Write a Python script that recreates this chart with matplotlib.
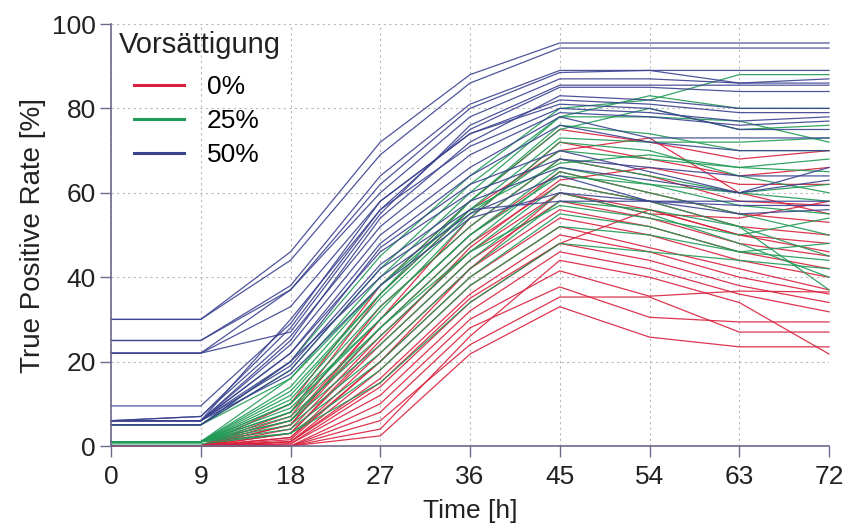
import matplotlib
matplotlib.use("Agg")
import matplotlib.pyplot as plt

plt.rcParams['font.family'] = ['Liberation Sans', 'DejaVu Sans']

time_h = [0, 9, 18, 27, 36, 45, 54, 63, 72]
x_ticks = [0, 9, 18, 27, 36, 45, 54, 63, 72]
y_ticks = [0, 20, 40, 60, 80, 100]
group_labels = ["0%", "25%", "50%"]
group_colors = ["#d8203c", "#1f9a55", "#3b4290"]
legend_title = "Vorsättigung"

red_0 = [
    [0, 0, 10, 38, 58, 75, 72, 68, 70],
    [0, 0, 8, 36, 56, 70, 73, 60, 55],
    [0, 0, 7, 33, 52, 68, 64, 58, 57],
    [0, 0, 6, 30, 50, 65, 60, 55, 53],
    [0, 0, 5, 28, 48, 62, 58, 52, 50],
    [0, 0, 4, 26, 46, 60, 56, 50, 48],
    [0, 0, 3, 24, 44, 58, 54, 48, 45],
    [0, 0, 2, 22, 42, 56, 52, 46, 42],
    [0, 0, 1.5, 20, 40, 54, 50, 44, 40],
    [0, 0, 1, 18, 38, 52, 47, 42, 37],
    [0, 0, 1, 16, 36, 50, 46, 40, 36],
    [0, 0, 0.5, 14, 34, 48, 44, 38, 34],
    [0, 0, 0.5, 12, 32, 46, 42, 36, 31.8],
    [0, 0, 0, 10, 30, 41.5, 35.5, 36.7, 36.5],
    [0, 0, 0, 8, 28, 37.7, 30.5, 29.4, 29.4],
    [0, 0, 0, 6, 24, 35.3, 35.3, 27, 27],
    [0, 0, 0, 2.4, 21.8, 33, 25.8, 23.5, 23.5],
    [0, 0, 0, 4, 26, 44, 40, 34, 21.8],
    [0, 0, 2, 20, 42, 60, 55, 54, 58],
    [0, 0, 3, 25, 47, 63, 66, 62, 62],
    [0, 0, 5, 30, 54, 72, 68, 64, 66],
    [0, 0, 1, 15, 35, 48, 56, 50, 46],
]

green_25 = [
    [5, 5, 20, 45, 64, 80, 82, 88, 88],
    [5, 5, 18, 42, 62, 78, 83, 80, 80],
    [1, 1, 16, 40, 60, 78, 78, 77, 72],
    [1, 1, 14, 38, 58, 76, 74, 70, 70],
    [1, 1, 12, 36, 56, 73, 72, 72, 73],
    [1, 1, 11, 35, 55, 70, 68, 66, 65],
    [1, 1, 10, 33, 52, 68, 64, 60, 62],
    [1, 1, 9, 30, 50, 66, 62, 57, 55],
    [1, 1, 8, 28, 48, 65, 60, 55, 50],
    [1, 1, 7, 26, 46, 62, 58, 52, 45],
    [1, 1, 6, 24, 44, 60, 55, 48, 40],
    [1, 1, 5, 22, 42, 58, 56, 52, 37],
    [1, 1, 4, 20, 40, 55, 52, 46, 44],
    [1, 1, 3, 18, 38, 52, 50, 46, 48],
    [0.5, 0.5, 3, 15, 34, 48, 46, 44, 42],
    [1, 1, 6, 28, 46, 57, 54, 50, 54],
    [1, 1, 8, 32, 54, 72, 70, 64, 60],
    [5, 5, 16, 38, 56, 67, 69, 66, 68],
    [1, 1, 10, 30, 50, 64, 62, 60, 58],
    [1, 1, 13, 36, 58, 75, 80, 75, 76],
]

blue_50 = [
    [30, 30, 46, 72, 88, 95.5, 95.5, 95.5, 95.5],
    [30, 30, 44, 69, 86, 94.3, 94.3, 94.3, 94.3],
    [25, 25, 38, 64, 81, 89, 89, 89, 89],
    [22, 22, 37, 62, 80, 88.5, 89, 86, 87],
    [25, 25, 37, 60, 78, 87, 87, 86, 86],
    [22, 22, 27, 55, 76, 85.5, 85.5, 85.5, 85.5],
    [9.5, 9.5, 29, 58, 74, 81, 80, 75, 75],
    [6, 6, 30, 56, 71, 80, 79, 77, 78],
    [6, 7, 26, 52, 69, 79, 78, 76, 77],
    [6, 6, 24, 50, 66, 78, 73, 73, 73],
    [6, 6, 22, 48, 64, 76, 72, 70, 70],
    [6, 6, 20, 47, 62, 70, 65, 60, 66],
    [6, 6, 22, 46, 60, 68, 66, 64, 64],
    [6, 6, 19, 43, 58, 66, 63, 60, 63],
    [5, 5, 20, 40, 55, 64, 58, 57, 57],
    [5, 5, 18, 42, 56, 58, 58, 58, 58],
    [6, 6, 17, 38, 54, 60, 58, 55, 56],
    [6, 6, 25, 54, 72, 83, 82, 80, 80],
    [6, 7, 28, 56, 75, 85, 85, 84, 84],
    [22, 22, 33, 58, 74, 82, 81, 79, 79],
]

groups = [red_0, green_25, blue_50]

W, H = 860, 528
fig = plt.figure(figsize=(W / 100, H / 100), dpi=100)
ax = fig.add_axes([111 / W, 1 - 446 / H, 718 / W, 422 / H])

for series_list, color, label in zip(groups, group_colors, group_labels):
    for i, vals in enumerate(series_list):
        ax.plot(time_h, vals, color=color, lw=0.9, alpha=0.9,
                label=label if i == 0 else None, clip_on=False)

ax.set_xlim(0, 72)
ax.set_ylim(0, 100)
ax.set_xticks(x_ticks)
ax.set_yticks(y_ticks)
ax.set_xticklabels([str(v) for v in x_ticks])
ax.set_yticklabels([str(v) for v in y_ticks])
ax.tick_params(axis='both', labelsize=19, length=8, width=1,
               color='#6b6b8e', labelcolor='#222222', direction='out')
ax.tick_params(axis='x', pad=6)
ax.tick_params(axis='y', pad=3)
ax.grid(True, linestyle=(0, (2, 3)), color='#b8b8b8', lw=0.8)
ax.set_axisbelow(True)
for s in ['top', 'right']:
    ax.spines[s].set_visible(False)
for s in ['left', 'bottom']:
    ax.spines[s].set_color('#6b6b8e')
    ax.spines[s].set_linewidth(1.2)

ax.set_xlabel("Time [h]", fontsize=19, color='#222222', labelpad=7)
ax.set_ylabel("True Positive Rate [%]", fontsize=20, color='#222222', labelpad=4)

# legend title
fig.text(119 / W, 1 - 45 / H, legend_title, fontsize=21, color='#222222',
         ha='left', va='center')

leg = ax.legend(loc='upper left', frameon=False,
                fontsize=19, handlelength=1.9, handletextpad=0.85,
                borderaxespad=0, borderpad=0, labelspacing=0.38,
                bbox_to_anchor=(134 / W, 1 - 75 / H),
                bbox_transform=fig.transFigure)
for line in leg.get_lines():
    line.set_linewidth(2.2)
    line.set_alpha(1.0)

fig.savefig("out.png", dpi=100)
